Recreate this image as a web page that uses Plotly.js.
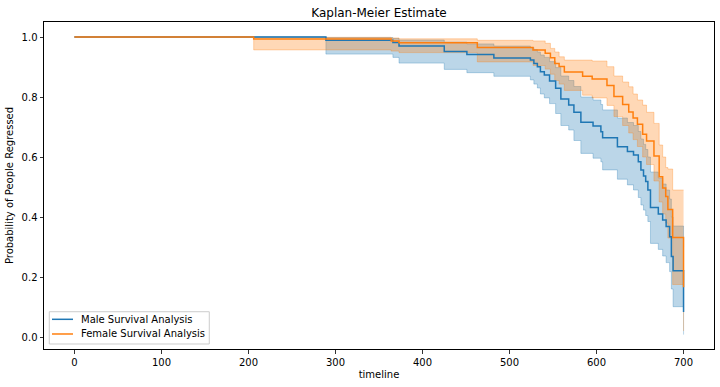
<!DOCTYPE html>
<html>
<head>
<meta charset="utf-8">
<script src="https://cdn.plot.ly/plotly-3.0.1.min.js"></script>
<style>html,body{margin:0;padding:0;background:#fff;}#chart{width:720px;height:387px;}</style>
</head>
<body>
<div id="chart"></div>
<script>
// Male group: timeline, survival estimate and confidence interval
var maleTime  = [0, 289, 366, 373, 425, 451, 482, 524, 528, 532, 535.5, 540, 546, 553, 559, 568, 574, 582, 596, 605, 607, 624, 635.5, 642.5, 648, 651, 654, 656.5, 659, 662, 671, 676, 680, 684, 686, 688, 700];
var maleSurv  = [1.0, 0.989, 0.982, 0.970, 0.952, 0.942, 0.930, 0.923, 0.912, 0.901, 0.884, 0.873, 0.853, 0.829, 0.793, 0.773, 0.749, 0.716, 0.703, 0.684, 0.664, 0.634, 0.618, 0.607, 0.584, 0.557, 0.537, 0.518, 0.490, 0.432, 0.410, 0.390, 0.368, 0.334, 0.268, 0.221, 0.083];
var maleLower = [1.0, 0.943, 0.932, 0.913, 0.892, 0.881, 0.869, 0.857, 0.843, 0.830, 0.810, 0.797, 0.778, 0.745, 0.705, 0.690, 0.655, 0.612, 0.596, 0.584, 0.557, 0.526, 0.507, 0.490, 0.465, 0.440, 0.423, 0.405, 0.385, 0.312, 0.292, 0.270, 0.248, 0.218, 0.160, 0.101, 0.008];
var maleUpper = [1.0, 0.998, 0.995, 0.990, 0.983, 0.977, 0.970, 0.965, 0.958, 0.950, 0.940, 0.932, 0.918, 0.898, 0.870, 0.855, 0.835, 0.800, 0.790, 0.775, 0.757, 0.730, 0.715, 0.705, 0.685, 0.660, 0.642, 0.625, 0.600, 0.550, 0.530, 0.510, 0.490, 0.460, 0.400, 0.370, 0.300];

// Female group
var femaleTime  = [0, 206, 364, 373, 463, 527, 541, 547, 552, 557, 563, 584, 595, 612, 620, 630, 637, 642, 647, 653, 657.5, 666, 672, 676, 679.5, 682, 687.5, 700];
var femaleSurv  = [1.0, 0.993, 0.987, 0.981, 0.965, 0.957, 0.946, 0.931, 0.912, 0.902, 0.883, 0.869, 0.860, 0.838, 0.802, 0.775, 0.750, 0.730, 0.709, 0.676, 0.653, 0.603, 0.534, 0.497, 0.468, 0.425, 0.332, 0.166];
var femaleLower = [1.0, 0.957, 0.953, 0.948, 0.917, 0.905, 0.893, 0.876, 0.855, 0.843, 0.822, 0.806, 0.797, 0.772, 0.735, 0.705, 0.680, 0.658, 0.635, 0.600, 0.575, 0.520, 0.450, 0.410, 0.380, 0.330, 0.175, 0.020];
var femaleUpper = [1.0, 0.999, 0.997, 0.994, 0.989, 0.987, 0.979, 0.962, 0.950, 0.934, 0.923, 0.923, 0.920, 0.901, 0.870, 0.850, 0.834, 0.810, 0.790, 0.773, 0.749, 0.712, 0.640, 0.600, 0.565, 0.560, 0.490, 0.490];

var seriesNames = ['Male Survival Analysis', 'Female Survival Analysis'];
var xTicks = [0, 100, 200, 300, 400, 500, 600, 700];
var yTicks = [0.0, 0.2, 0.4, 0.6, 0.8, 1.0];

var blue = '#1f77b4', orange = '#ff7f0e';
var blueFill = 'rgba(31,119,180,0.3)', orangeFill = 'rgba(255,127,14,0.3)';
var seriesColors = [blue, orange];

function band(t, lo, hi, fill) {
  return [
    {x: t, y: lo, mode: 'lines', line: {shape: 'hv', width: 1, color: fill}, showlegend: false, hoverinfo: 'skip'},
    {x: t, y: hi, mode: 'lines', line: {shape: 'hv', width: 1, color: fill}, fill: 'tonexty', fillcolor: fill, showlegend: false, hoverinfo: 'skip'}
  ];
}

var data = [].concat(
  band(maleTime, maleLower, maleUpper, blueFill),
  band(femaleTime, femaleLower, femaleUpper, orangeFill),
  [{x: maleTime, y: maleSurv, mode: 'lines', name: seriesNames[0], line: {shape: 'hv', width: 1.5, color: blue}}],
  [{x: femaleTime, y: femaleSurv, mode: 'lines', name: seriesNames[1], line: {shape: 'hv', width: 1.5, color: orange}}]
);

var axisCommon = {
  showgrid: false, zeroline: false, showline: true, mirror: true,
  linecolor: '#000', linewidth: 1, ticks: 'outside', ticklen: 3.5, tickwidth: 0.8, tickcolor: '#000',
  tickfont: {family: 'DejaVu Sans', size: 10, color: '#000'}
};

// Matplotlib-style legend box (drawn in plot-area fractions)
var shapes = [
  {type: 'rect', xref: 'paper', yref: 'paper', x0: 0.0079, x1: 0.2467, y0: 0.0153, y1: 0.114,
   line: {color: '#cccccc', width: 1}, fillcolor: 'rgba(255,255,255,0.8)', layer: 'above'}
];
var annotations = [];
var rowY = [0.0908, 0.0459];
for (var i = 0; i < seriesNames.length; i++) {
  shapes.push({type: 'line', xref: 'paper', yref: 'paper', x0: 0.0119, x1: 0.0433, y0: rowY[i], y1: rowY[i],
               line: {color: seriesColors[i], width: 1.5}, layer: 'above'});
  annotations.push({xref: 'paper', yref: 'paper', x: 0.0525, y: rowY[i], xanchor: 'left', yanchor: 'middle',
                    text: seriesNames[i], showarrow: false,
                    font: {family: 'DejaVu Sans', size: 10, color: '#000'}});
}

var layout = {
  width: 720, height: 387,
  margin: {l: 44, r: 6, t: 22, b: 38},
  paper_bgcolor: '#fff', plot_bgcolor: '#fff',
  font: {family: 'DejaVu Sans', size: 10, color: '#000'},
  title: {text: 'Kaplan-Meier Estimate', font: {family: 'DejaVu Sans', size: 12, color: '#000'},
          xref: 'paper', x: 0.5, xanchor: 'center', yref: 'container', y: 0.966, yanchor: 'middle'},
  xaxis: Object.assign({}, axisCommon, {
    range: [-35, 735], tickvals: xTicks, ticktext: xTicks.map(String),
    title: {text: 'timeline', font: {family: 'DejaVu Sans', size: 10, color: '#000'}, standoff: 4}
  }),
  yaxis: Object.assign({}, axisCommon, {
    range: [-0.04, 1.05], tickvals: yTicks, ticktext: yTicks.map(function(v){return v.toFixed(1);}),
    title: {text: 'Probability of People Regressed', font: {family: 'DejaVu Sans', size: 10, color: '#000'}, standoff: 6}
  }),
  showlegend: false,
  shapes: shapes,
  annotations: annotations
};

Plotly.newPlot('chart', data, layout, {displayModeBar: false, staticPlot: true});
</script>
</body>
</html>
